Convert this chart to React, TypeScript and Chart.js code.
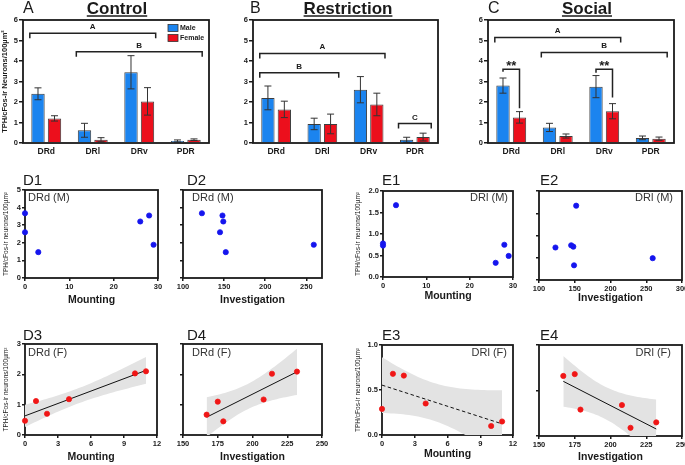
import React, { useEffect, useRef } from 'react';
import { Chart, registerables } from 'chart.js';

Chart.register(...registerables);

const FONT = '"Liberation Sans", Arial, Helvetica, sans-serif';
const INK = '#1a1a1a';
const BLUE = '#1b84ef';
const RED = '#ec0f1c';
const BLUE_DOT = '#1515ee';
const RED_DOT = '#f01616';

// ---------- Bar panels (A, B, C) ----------
const regions = ['DRd', 'DRl', 'DRv', 'PDR'];
const barTicks = [0, 1, 2, 3, 4, 5, 6];

const controlMale = [2.4, 0.62, 3.45, 0.1];
const controlMaleErr = [0.29, 0.34, 0.81, 0.05];
const controlFemale = [1.2, 0.16, 2.03, 0.16];
const controlFemaleErr = [0.13, 0.1, 0.67, 0.04];

const restrictionMale = [2.2, 0.93, 2.6, 0.16];
const restrictionMaleErr = [0.58, 0.28, 0.64, 0.12];
const restrictionFemale = [1.64, 0.93, 1.88, 0.29];
const restrictionFemaleErr = [0.4, 0.48, 0.55, 0.19];

const socialMale = [2.8, 0.76, 2.75, 0.25];
const socialMaleErr = [0.37, 0.2, 0.54, 0.09];
const socialFemale = [1.25, 0.34, 1.55, 0.21];
const socialFemaleErr = [0.28, 0.1, 0.37, 0.08];

// group brackets: from category (male bar) to category (female bar), at value y
const controlBrackets = [
  { label: 'A', from: 0, to: 2, y: 5.35 },
  { label: 'B', from: 1, to: 3, y: 4.45 },
];
const restrictionBrackets = [
  { label: 'A', from: 0, to: 2, y: 4.37 },
  { label: 'B', from: 0, to: 1, y: 3.43 },
  { label: 'C', from: 3, to: 3, y: 0.95 },
];
const socialBrackets = [
  { label: 'A', from: 0, to: 2, y: 5.15 },
  { label: 'B', from: 1, to: 3, y: 4.42 },
];
// male-vs-female significance brackets
const socialSig = [
  { label: '**', cat: 0, y: 3.6, maleEnd: 3.47, femaleEnd: 1.69 },
  { label: '**', cat: 2, y: 3.6, maleEnd: 3.43, femaleEnd: 2.22 },
];

// ---------- Scatter panels (D, E) ----------
const maleMounting = [0, 0, 3, 26, 28, 29];
const maleDRdByMounting = [3.68, 2.6, 1.47, 3.21, 3.55, 1.89];
const maleDRlByMounting = [0.78, 0.73, 1.67, 0.33, 0.75, 0.49];
const maleInvestigation = [123, 145, 148, 149, 152, 259];
const maleDRdByInvestigation = [3.68, 2.6, 3.55, 3.21, 1.47, 1.89];
const maleDRlByInvestigation = [0.73, 0.78, 0.75, 0.33, 1.67, 0.49];

const femaleMounting = [0, 1, 2, 4, 10, 11];
const femaleDRdByMounting = [0.47, 1.12, 0.7, 1.18, 2.03, 2.1];
const femaleDRlByMounting = [0.29, 0.68, 0.66, 0.35, 0.1, 0.15];
const femaleInvestigation = [179, 175, 167, 208, 214, 232];
const femaleDRdByInvestigation = [0.45, 1.1, 0.67, 1.17, 2.02, 2.09];
const femaleDRlByInvestigation = [0.29, 0.68, 0.66, 0.34, 0.09, 0.15];

const maleMountingTicks = [0, 10, 20, 30];
const maleInvestigationTicksD = [100, 150, 200, 250];
const maleInvestigationTicksE = [100, 150, 200, 250, 300];
const femaleMountingTicks = [0, 3, 6, 9, 12];
const femaleInvestigationTicks = [150, 175, 200, 225, 250];
const drdMaleTicks = [0, 1, 2, 3, 4, 5];
const drlMaleTicks = [0, 0.5, 1, 1.5, 2];
const drdFemaleTicks = [0, 1, 2, 3];
const drlFemaleTicks = [0, 0.5, 1];

const Y_TITLE_SMALL = 'TPH/cFos-ir neurons/100\u00b5m\u00b2';
const Y_TITLE_BAR = 'TPH/cFos-ir Neurons/100\u00b5m\u00b2';

const T95: Record<number, number> = { 4: 2.776 };

function regression(xs: number[], ys: number[]) {
  const n = xs.length;
  const mx = xs.reduce((a, b) => a + b, 0) / n;
  const my = ys.reduce((a, b) => a + b, 0) / n;
  let sxx = 0;
  let sxy = 0;
  xs.forEach((x, i) => {
    sxx += (x - mx) * (x - mx);
    sxy += (x - mx) * (ys[i] - my);
  });
  const slope = sxy / sxx;
  const icpt = my - slope * mx;
  let sse = 0;
  xs.forEach((x, i) => {
    const r = ys[i] - (icpt + slope * x);
    sse += r * r;
  });
  const s = Math.sqrt(sse / (n - 2));
  const t = T95[n - 2] || 2.776;
  return {
    at: (x: number) => icpt + slope * x,
    half: (x: number) => t * s * Math.sqrt(1 / n + ((x - mx) * (x - mx)) / sxx),
  };
}

const f = (size: number, bold = false) => `${bold ? 'bold ' : ''}${size}px ${FONT}`;

// ---------- panel layout specs ----------
const barPanels = [
  {
    key: 'A', letter: 'A', title: 'Control',
    male: controlMale, maleErr: controlMaleErr, female: controlFemale, femaleErr: controlFemaleErr,
    brackets: controlBrackets, sig: [] as any[], legend: true, yTitle: Y_TITLE_BAR,
    box: [0, 0, 225, 160], plot: [23, 20, 209, 143], letterDx: 0, titleDx: 1,
  },
  {
    key: 'B', letter: 'B', title: 'Restriction',
    male: restrictionMale, maleErr: restrictionMaleErr, female: restrictionFemale, femaleErr: restrictionFemaleErr,
    brackets: restrictionBrackets, sig: [] as any[], legend: false, yTitle: '',
    box: [225, 0, 230, 160], plot: [253, 20, 438, 143], letterDx: -3, titleDx: 2.5,
  },
  {
    key: 'C', letter: 'C', title: 'Social',
    male: socialMale, maleErr: socialMaleErr, female: socialFemale, femaleErr: socialFemaleErr,
    brackets: socialBrackets, sig: socialSig, legend: false, yTitle: '',
    box: [455, 0, 230, 160], plot: [488, 20, 674, 143], letterDx: 0, titleDx: 6,
  },
];

const scatterPanels = [
  {
    key: 'D1', label: 'D1', inner: 'DRd (M)', innerAlign: 'left', innerDx: 3,
    xs: maleMounting, ys: maleDRdByMounting, color: BLUE_DOT, fit: 'none',
    xMin: 0, xMax: 30, xTicks: maleMountingTicks, yMin: 0, yMax: 5, yTicks: drdMaleTicks, yDec: 0,
    xTitle: 'Mounting', yTitle: true, showY: true,
    box: [0, 165, 170, 145], plot: [25, 190, 158, 278], labelDx: -2, labelY: 185, innerY: 201, titlePb: 3.7, yTitlePt: 2,
  },
  {
    key: 'D2', label: 'D2', inner: 'DRd (M)', innerAlign: 'left', innerDx: 9,
    xs: maleInvestigation, ys: maleDRdByInvestigation, color: BLUE_DOT, fit: 'none',
    xMin: 100, xMax: 269, xTicks: maleInvestigationTicksD, yMin: 0, yMax: 5, yTicks: drdMaleTicks, yDec: 0,
    xTitle: 'Investigation', yTitle: false, showY: false,
    box: [170, 165, 170, 145], plot: [183, 190, 322, 278], labelDx: 4, labelY: 185, innerY: 201, titlePb: 3.7, yTitlePt: 0,
  },
  {
    key: 'E1', label: 'E1', inner: 'DRl (M)', innerAlign: 'right', innerDx: -5,
    xs: maleMounting, ys: maleDRlByMounting, color: BLUE_DOT, fit: 'none',
    xMin: 0, xMax: 30, xTicks: maleMountingTicks, yMin: 0, yMax: 2, yTicks: drlMaleTicks, yDec: 1,
    xTitle: 'Mounting', yTitle: true, showY: true,
    box: [350, 165, 170, 145], plot: [383, 191, 513, 277], labelDx: -1, labelY: 185, innerY: 201, titlePb: 7.7, yTitlePt: 4,
  },
  {
    key: 'E2', label: 'E2', inner: 'DRl (M)', innerAlign: 'right', innerDx: -9,
    xs: maleInvestigation, ys: maleDRlByInvestigation, color: BLUE_DOT, fit: 'none',
    xMin: 100, xMax: 300, xTicks: maleInvestigationTicksE, yMin: 0, yMax: 2, yTicks: drlMaleTicks, yDec: 1,
    xTitle: 'Investigation', yTitle: false, showY: false,
    box: [520, 165, 175, 145], plot: [539, 191, 682, 280], labelDx: 1, labelY: 185, innerY: 201, titlePb: 5.7, yTitlePt: 0,
  },
  {
    key: 'D3', label: 'D3', inner: 'DRd (F)', innerAlign: 'left', innerDx: 3,
    xs: femaleMounting, ys: femaleDRdByMounting, color: RED_DOT, fit: 'solid',
    xMin: 0, xMax: 12, xTicks: femaleMountingTicks, yMin: 0, yMax: 3, yTicks: drdFemaleTicks, yDec: 0,
    xTitle: 'Mounting', yTitle: true, showY: true,
    box: [0, 310, 170, 155], plot: [25, 344, 157, 435], labelDx: -2, labelY: 340, innerY: 356, titlePb: 1.7, yTitlePt: 2,
  },
  {
    key: 'D4', label: 'D4', inner: 'DRd (F)', innerAlign: 'left', innerDx: 9,
    xs: femaleInvestigation, ys: femaleDRdByInvestigation, color: RED_DOT, fit: 'solid',
    xMin: 150, xMax: 250, xTicks: femaleInvestigationTicks, yMin: 0, yMax: 3, yTicks: drdFemaleTicks, yDec: 0,
    xTitle: 'Investigation', yTitle: false, showY: false,
    box: [170, 310, 170, 155], plot: [183, 344, 322, 435], labelDx: 4, labelY: 340, innerY: 356, titlePb: 2, yTitlePt: 0,
  },
  {
    key: 'E3', label: 'E3', inner: 'DRl (F)', innerAlign: 'right', innerDx: -6,
    xs: femaleMounting, ys: femaleDRlByMounting, color: RED_DOT, fit: 'dashed',
    xMin: 0, xMax: 12, xTicks: femaleMountingTicks, yMin: 0, yMax: 1, yTicks: drlFemaleTicks, yDec: 1,
    xTitle: 'Mounting', yTitle: true, showY: true,
    box: [350, 310, 170, 155], plot: [382, 345, 513, 435], labelDx: 0, labelY: 340, innerY: 356, titlePb: 4.7, yTitlePt: 4,
  },
  {
    key: 'E4', label: 'E4', inner: 'DRl (F)', innerAlign: 'right', innerDx: -11,
    xs: femaleInvestigation, ys: femaleDRlByInvestigation, color: RED_DOT, fit: 'solid',
    xMin: 150, xMax: 250, xTicks: femaleInvestigationTicks, yMin: 0, yMax: 1, yTicks: drlFemaleTicks, yDec: 1,
    xTitle: 'Investigation', yTitle: false, showY: false,
    box: [520, 310, 175, 155], plot: [539, 345, 682, 436], labelDx: 1, labelY: 340, innerY: 356, titlePb: 2, yTitlePt: 0,
  },
];

function layoutFor(box: number[], plot: number[]) {
  const [bx, by, bw, bh] = box;
  const [l, t, r, b] = plot;
  return {
    padding: { top: t - by, right: bx + bw - r, left: 0, bottom: 0 },
    yWidth: l - bx,
    xHeight: by + bh - b,
  };
}

function framePath(ctx: CanvasRenderingContext2D, a: any) {
  ctx.save();
  ctx.strokeStyle = INK;
  ctx.lineWidth = 1.8;
  ctx.strokeRect(a.left, a.top, a.right - a.left, a.bottom - a.top);
  ctx.restore();
}

function barConfig(p: any): any {
  const lay = layoutFor(p.box, p.plot);
  const plugin = {
    id: 'barDecor' + p.key,
    afterDatasetsDraw(chart: any) {
      const { ctx, chartArea: a } = chart;
      const y = chart.scales.y;
      // error bars
      chart.data.datasets.forEach((ds: any, d: number) => {
        const meta = chart.getDatasetMeta(d);
        ds.errors.forEach((e: number, i: number) => {
          const el = meta.data[i];
          const v = ds.data[i];
          const yt = y.getPixelForValue(v + e);
          const yb = y.getPixelForValue(Math.max(0, v - e));
          ctx.save();
          ctx.strokeStyle = '#333';
          ctx.lineWidth = 1;
          ctx.beginPath();
          ctx.moveTo(el.x, yt);
          ctx.lineTo(el.x, yb);
          ctx.moveTo(el.x - 3.5, yt);
          ctx.lineTo(el.x + 3.5, yt);
          ctx.moveTo(el.x - 3.5, yb);
          ctx.lineTo(el.x + 3.5, yb);
          ctx.stroke();
          ctx.restore();
        });
      });
      framePath(ctx, a);
      const m0 = chart.getDatasetMeta(0);
      const m1 = chart.getDatasetMeta(1);
      ctx.save();
      ctx.strokeStyle = '#222';
      ctx.fillStyle = INK;
      ctx.lineWidth = 1.5;
      // group brackets
      p.brackets.forEach((b: any) => {
        const s = m0.data[b.from];
        const e = m1.data[b.to];
        const x1 = s.x - s.width / 2 - 1.5;
        const x2 = e.x + e.width / 2 + 1.5;
        const yp = y.getPixelForValue(b.y);
        ctx.beginPath();
        ctx.moveTo(x1, yp + 5);
        ctx.lineTo(x1, yp);
        ctx.lineTo(x2, yp);
        ctx.lineTo(x2, yp + 5);
        ctx.stroke();
        ctx.font = f(8, true);
        ctx.textAlign = 'center';
        ctx.textBaseline = 'alphabetic';
        ctx.fillText(b.label, (x1 + x2) / 2, yp - 4);
      });
      // significance brackets
      p.sig.forEach((b: any) => {
        const mx = m0.data[b.cat].x;
        const fx = m1.data[b.cat].x;
        const yp = y.getPixelForValue(b.y);
        ctx.beginPath();
        ctx.moveTo(mx, y.getPixelForValue(b.maleEnd));
        ctx.lineTo(mx, yp);
        ctx.lineTo(fx, yp);
        ctx.lineTo(fx, y.getPixelForValue(b.femaleEnd));
        ctx.stroke();
        ctx.font = f(13, true);
        ctx.textAlign = 'center';
        ctx.textBaseline = 'top';
        ctx.fillText(b.label, (mx + fx) / 2, yp - 9.5);
      });
      ctx.restore();
    },
    afterDraw(chart: any) {
      const { ctx, chartArea: a } = chart;
      ctx.save();
      ctx.fillStyle = INK;
      ctx.textBaseline = 'alphabetic';
      ctx.font = f(16);
      ctx.textAlign = 'left';
      ctx.fillText(p.letter, a.left + p.letterDx, 13);
      ctx.font = f(17, true);
      ctx.textAlign = 'center';
      const cx = (a.left + a.right) / 2 + p.titleDx;
      ctx.fillText(p.title, cx, 14);
      const w = ctx.measureText(p.title).width;
      ctx.strokeStyle = INK;
      ctx.lineWidth = 1.5;
      ctx.beginPath();
      ctx.moveTo(cx - w / 2, 16);
      ctx.lineTo(cx + w / 2, 16);
      ctx.stroke();
      if (p.legend) {
        const lx = a.left + 145;
        const items = [
          { text: 'Male', color: BLUE, y: a.top + 4.5 },
          { text: 'Female', color: RED, y: a.top + 14.5 },
        ];
        ctx.font = f(7, true);
        ctx.textAlign = 'left';
        ctx.textBaseline = 'middle';
        items.forEach((it) => {
          ctx.fillStyle = it.color;
          ctx.fillRect(lx, it.y, 10, 7);
          ctx.strokeStyle = '#333';
          ctx.lineWidth = 0.8;
          ctx.strokeRect(lx, it.y, 10, 7);
          ctx.fillStyle = INK;
          ctx.fillText(it.text, lx + 12, it.y + 3.8);
        });
      }
      ctx.restore();
    },
  };
  return {
    type: 'bar',
    data: {
      labels: regions,
      datasets: [
        {
          label: 'Male', data: p.male, errors: p.maleErr, backgroundColor: BLUE,
          borderColor: '#3d3d3d', borderWidth: 1, barPercentage: 0.81, categoryPercentage: 0.71,
        },
        {
          label: 'Female', data: p.female, errors: p.femaleErr, backgroundColor: RED,
          borderColor: '#3d3d3d', borderWidth: 1, barPercentage: 0.81, categoryPercentage: 0.71,
        },
      ],
    },
    options: {
      animation: false,
      responsive: false,
      devicePixelRatio: 1,
      layout: { padding: lay.padding },
      plugins: { legend: { display: false }, tooltip: { enabled: false } },
      scales: {
        x: {
          afterFit: (s: any) => { s.height = lay.xHeight; },
          grid: { display: false, drawTicks: false },
          border: { display: false },
          ticks: { font: { family: FONT, size: 8.5, weight: 'bold' }, color: INK, padding: 4 },
        },
        y: {
          min: 0, max: 6,
          afterBuildTicks: (s: any) => { s.ticks = barTicks.map((v) => ({ value: v })); },
          afterFit: (s: any) => { s.width = lay.yWidth; },
          grid: { drawOnChartArea: false, drawTicks: true, tickLength: 4, color: INK, lineWidth: 1.5 },
          border: { display: false },
          ticks: { font: { family: FONT, size: 7.5, weight: 'bold' }, color: INK, padding: 1 },
          title: {
            display: !!p.yTitle, text: p.yTitle, color: INK,
            font: { family: FONT, size: 7.5, weight: 'bold' }, padding: { top: 0, bottom: 0 },
          },
        },
      },
    },
    plugins: [plugin],
  };
}

function scatterConfig(p: any): any {
  const lay = layoutFor(p.box, p.plot);
  const [bx, by] = p.box;
  const datasets: any[] = [
    {
      label: p.key, data: p.xs.map((x: number, i: number) => ({ x, y: p.ys[i] })),
      showLine: false, pointRadius: 2.6, pointBorderWidth: 0.8, pointBackgroundColor: p.color,
      pointBorderColor: p.color, clip: false, order: 0,
    },
  ];
  if (p.fit !== 'none') {
    const r = regression(p.xs, p.ys);
    const lo = Math.min(...p.xs);
    const hi = Math.max(...p.xs);
    const xsBand: number[] = [];
    for (let k = 0; k <= 40; k++) xsBand.push(lo + ((hi - lo) * k) / 40);
    datasets.push({
      label: 'fit', data: [{ x: lo, y: r.at(lo) }, { x: hi, y: r.at(hi) }],
      borderColor: '#111', borderWidth: 1, borderDash: p.fit === 'dashed' ? [3.5, 2.5] : [],
      pointRadius: 0, fill: false, order: 1,
    });
    datasets.push({
      label: 'upper', data: xsBand.map((x) => ({ x, y: r.at(x) + r.half(x) })),
      borderColor: 'rgba(0,0,0,0)', borderWidth: 0, pointRadius: 0,
      backgroundColor: '#e3e3e3', fill: '+1', order: 2,
    });
    datasets.push({
      label: 'lower', data: xsBand.map((x) => ({ x, y: r.at(x) - r.half(x) })),
      borderColor: 'rgba(0,0,0,0)', borderWidth: 0, pointRadius: 0, fill: false, order: 3,
    });
  }
  const plugin = {
    id: 'scDecor' + p.key,
    beforeDatasetsDraw(chart: any) {
      framePath(chart.ctx, chart.chartArea);
    },
    afterDraw(chart: any) {
      const { ctx, chartArea: a } = chart;
      ctx.save();
      ctx.fillStyle = INK;
      ctx.textBaseline = 'alphabetic';
      ctx.font = f(15);
      ctx.textAlign = 'left';
      ctx.fillText(p.label, a.left + p.labelDx, p.labelY - by);
      ctx.font = f(11);
      ctx.fillStyle = '#333';
      if (p.innerAlign === 'left') {
        ctx.textAlign = 'left';
        ctx.fillText(p.inner, a.left + p.innerDx, p.innerY - by);
      } else {
        ctx.textAlign = 'right';
        ctx.fillText(p.inner, a.right + p.innerDx, p.innerY - by);
      }
      ctx.restore();
    },
  };
  return {
    type: 'line',
    data: { datasets },
    options: {
      animation: false,
      responsive: false,
      devicePixelRatio: 1,
      layout: { padding: lay.padding },
      plugins: { legend: { display: false }, tooltip: { enabled: false } },
      scales: {
        x: {
          type: 'linear', min: p.xMin, max: p.xMax,
          afterBuildTicks: (s: any) => { s.ticks = p.xTicks.map((v: number) => ({ value: v })); },
          afterFit: (s: any) => { s.height = lay.xHeight; },
          grid: { drawOnChartArea: false, drawTicks: true, tickLength: 3, color: INK, lineWidth: 1.5 },
          border: { display: false },
          ticks: {
            font: { family: FONT, size: 7.5, weight: 'bold' }, color: INK, padding: 1.5,
            maxRotation: 0, autoSkip: false,
          },
          title: {
            display: true, text: p.xTitle, color: INK,
            font: { family: FONT, size: 10.5, weight: 'bold' }, padding: { top: 0, bottom: p.titlePb },
          },
        },
        y: {
          type: 'linear', min: p.yMin, max: p.yMax,
          afterBuildTicks: (s: any) => { s.ticks = p.yTicks.map((v: number) => ({ value: v })); },
          afterFit: (s: any) => { s.width = lay.yWidth; },
          grid: { drawOnChartArea: false, drawTicks: true, tickLength: 3, color: INK, lineWidth: 1.5 },
          border: { display: false },
          ticks: {
            display: p.showY, font: { family: FONT, size: 7.5, weight: 'bold' }, color: INK, padding: 1,
            callback: (v: any) => Number(v).toFixed(p.yDec),
          },
          title: {
            display: !!p.yTitle, text: Y_TITLE_SMALL, color: INK,
            font: { family: FONT, size: 6.5 }, padding: { top: p.yTitlePt, bottom: 0 },
          },
        },
      },
    },
    plugins: [plugin],
  };
}

const allPanels = [
  ...barPanels.map((p) => ({ key: p.key, box: p.box, build: () => barConfig(p) })),
  ...scatterPanels.map((p) => ({ key: p.key, box: p.box, build: () => scatterConfig(p) })),
];

export default function App() {
  const refs = useRef<(HTMLCanvasElement | null)[]>([]);
  useEffect(() => {
    const charts = allPanels.map((p, i) => new Chart(refs.current[i] as HTMLCanvasElement, p.build()));
    return () => {
      charts.forEach((c) => c.destroy());
    };
  }, []);
  return (
    <div
      style={{
        position: 'fixed', left: 0, top: 0, width: 685, height: 465,
        background: '#ffffff', overflow: 'hidden',
      }}
    >
      {allPanels.map((p, i) => (
        <canvas
          key={p.key}
          ref={(el) => {
            refs.current[i] = el;
          }}
          width={p.box[2]}
          height={p.box[3]}
          style={{
            position: 'absolute', left: p.box[0], top: p.box[1],
            width: p.box[2], height: p.box[3],
          }}
        />
      ))}
    </div>
  );
}
